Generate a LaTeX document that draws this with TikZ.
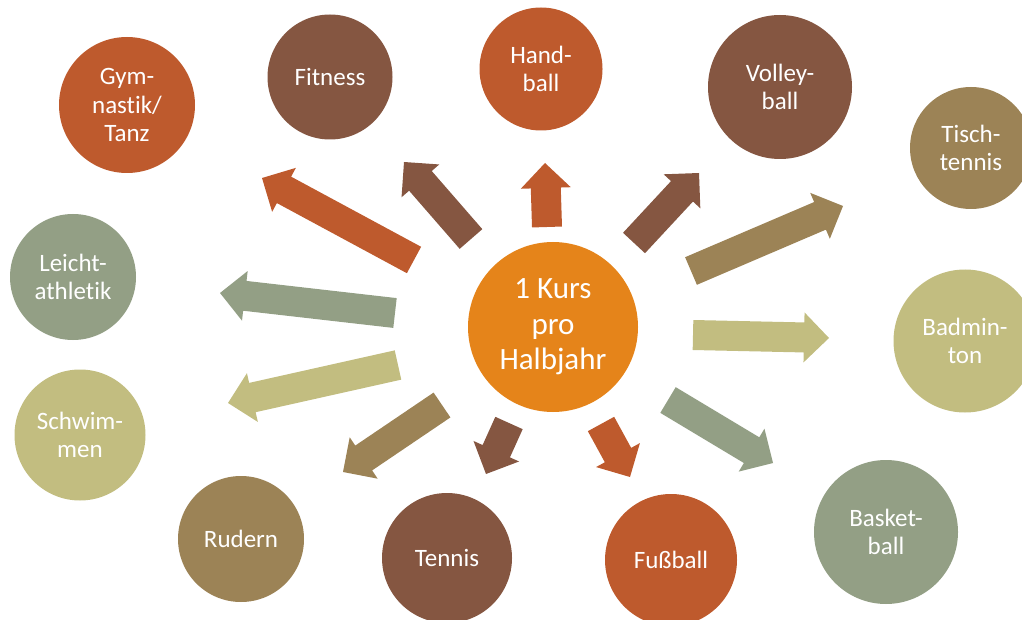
\documentclass[tikz,border=0pt]{standalone}
\usepackage{fontspec}
\setmainfont{Carlito}[Ligatures={NoCommon}]
\usetikzlibrary{calc}
\definecolor{cOrange}{HTML}{E5841A}
\definecolor{cRust}{HTML}{BE5A2D}
\definecolor{cBrown}{HTML}{855641}
\definecolor{cOlive}{HTML}{9C8356}
\definecolor{cKhaki}{HTML}{C2BD80}
\definecolor{cSage}{HTML}{939F85}
\newcommand\blkarrow[4]{%
  \coordinate (#4) at ($(#3)!25pt!(#2)$);
  \fill[#1] ($(#2)!15pt!90:(#3)$) -- ($(#4)!15pt!90:(#3)$) -- ($(#4)!25pt!90:(#3)$) -- (#3)
    -- ($(#4)!25pt!-90:(#3)$) -- ($(#4)!15pt!-90:(#3)$) -- ($(#2)!15pt!-90:(#3)$) -- cycle;}
\tikzset{
  ball/.style={circle, inner sep=0pt, text=white, align=center,
    font=\fontsize{25}{28.5}\selectfont},
  hub/.style={circle, inner sep=0pt, text=white, align=center, fill=cOrange,
    font=\fontsize{31}{35.5}\selectfont}
}
\begin{document}
\begin{tikzpicture}[x=1pt,y=-1pt]
\useasboundingbox (0,0) rectangle (1022,620);
% circles
\node[hub, minimum size=170pt] (hub) at (553,327) {1 Kurs\\pro\\Halbjahr};
\node[ball, fill=cRust,  minimum size=136pt] (gym)  at (127,105) {Gym-\\nastik/\\Tanz};
\node[ball, fill=cBrown, minimum size=125pt] (fit)  at (330,77)  {Fitness};
\node[ball, fill=cRust,  minimum size=123pt] (hand) at (541,69)  {Hand-\\ball};
\node[ball, fill=cBrown, minimum size=144pt] (voll) at (780,87)  {Volley-\\ball};
\node[ball, fill=cOlive, minimum size=122pt] (tisch) at (971,148) {Tisch-\\tennis};
\node[ball, fill=cKhaki, minimum size=143pt] (badm) at (965,341) {Badmin-\\ton};
\node[ball, fill=cSage,  minimum size=144pt] (bask) at (886,532) {Basket-\\ball};
\node[ball, fill=cRust,  minimum size=132pt] (fuss) at (671,560) {Fußball};
\node[ball, fill=cBrown, minimum size=130pt] (tenn) at (447,558) {Tennis};
\node[ball, fill=cOlive, minimum size=126pt] (rud)  at (241,539) {Rudern};
\node[ball, fill=cKhaki, minimum size=131pt] (schw) at (80,435)  {Schwim-\\men};
\node[ball, fill=cSage,  minimum size=126pt] (leicht) at (73,277) {Leicht-\\athletik};
% arrow coordinates
\coordinate (t1) at (414,260);  \coordinate (p1) at (262,178);
\coordinate (t2) at (471,239);  \coordinate (p2) at (404,162);
\coordinate (t3) at (547,227);  \coordinate (p3) at (545,163);
\coordinate (t4) at (634,243);  \coordinate (p4) at (699,173);
\coordinate (t5) at (691,271);  \coordinate (p5) at (843,206);
\coordinate (t6) at (693,335);  \coordinate (p6) at (829,338);
\coordinate (t7) at (395,313);  \coordinate (p7) at (220,293);
\coordinate (t8) at (398,365);  \coordinate (p8) at (228,403);
\coordinate (t9) at (442,405);  \coordinate (p9) at (343,472);
\coordinate (t10) at (509,423); \coordinate (p10) at (486,474);
\coordinate (t11) at (601,424); \coordinate (p11) at (630,477);
\coordinate (t12) at (668,400); \coordinate (p12) at (773,463);
\blkarrow{cRust}{t1}{p1}{h1}
\blkarrow{cBrown}{t2}{p2}{h2}
\blkarrow{cRust}{t3}{p3}{h3}
\blkarrow{cBrown}{t4}{p4}{h4}
\blkarrow{cOlive}{t5}{p5}{h5}
\blkarrow{cKhaki}{t6}{p6}{h6}
\blkarrow{cSage}{t7}{p7}{h7}
\blkarrow{cKhaki}{t8}{p8}{h8}
\blkarrow{cOlive}{t9}{p9}{h9}
\blkarrow{cBrown}{t10}{p10}{h10}
\blkarrow{cRust}{t11}{p11}{h11}
\blkarrow{cSage}{t12}{p12}{h12}
\end{tikzpicture}
\end{document}
